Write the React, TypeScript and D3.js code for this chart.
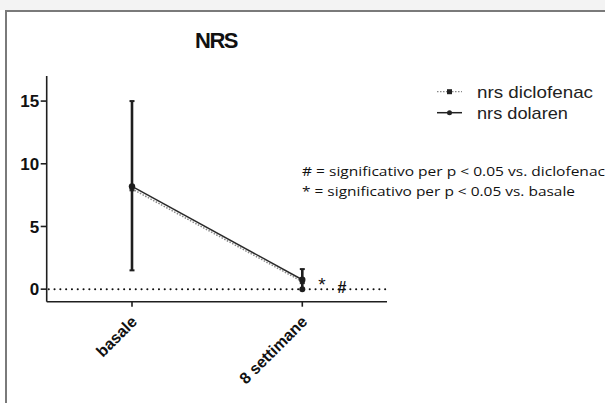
import React from "react";
import * as d3 from "d3";

const categories = ["basale", "8 settimane"];
const dolarenMean = [8.2, 0.75];
const dolarenLow = [1.5, 0];
const dolarenHigh = [15, 1.6];
const diclofenacMean = [8.0, 0.6];
const yTicks = [0, 5, 10, 15];
const legendLabels = ["nrs diclofenac", "nrs dolaren"];
const notes = [
  "# = significativo per p < 0.05 vs. diclofenac",
  "* = significativo per p < 0.05 vs. basale",
];
const sigMarks = ["*", "#"];

const W = 605;
const H = 403;

export default function App() {
  const axisLeft = 46.7;
  const axisRight = 387;
  const y = d3.scaleLinear().domain([-1, 17]).range([301.7, 76]);
  const x = d3.scalePoint().domain(categories).range([132, 302.3]);

  const line = d3
    .line<number>()
    .x((_, i) => x(categories[i]) as number)
    .y((d) => y(d));

  const dark = "#1e1e1e";
  const font = "'Liberation Sans', Arial, sans-serif";

  return (
    <svg
      width={W}
      height={H}
      style={{ position: "absolute", left: 0, top: 0, background: "#fff" }}
    >
      <rect x={0} y={0} width={W} height={10} fill="#f3f3f3" />
      <line x1={6} x2={W} y1={11} y2={11} stroke="#7a7a7a" strokeWidth={2} />
      <line x1={6} x2={6} y1={10} y2={H} stroke="#7a7a7a" strokeWidth={2} />

      <text
        x={216}
        y={48}
        textAnchor="middle"
        fontFamily={font}
        fontWeight="bold"
        fontSize={22}
        letterSpacing={-1.5}
        fill="#111"
      >
        NRS
      </text>

      {/* y axis */}
      <line x1={axisLeft} x2={axisLeft} y1={y(17)} y2={y(-1)} stroke={dark} strokeWidth={1.6} />
      {yTicks.map((t) => (
        <g key={t}>
          <line x1={axisLeft - 6} x2={axisLeft} y1={y(t)} y2={y(t)} stroke={dark} strokeWidth={1.6} />
          <text
            x={axisLeft - 7.5}
            y={y(t)}
            dy="0.36em"
            textAnchor="end"
            fontFamily={font}
            fontWeight="bold"
            fontSize={17}
            fill="#111"
          >
            {t}
          </text>
        </g>
      ))}

      {/* x axis */}
      <line x1={axisLeft} x2={axisRight} y1={y(-1)} y2={y(-1)} stroke={dark} strokeWidth={1.6} />
      {categories.map((c) => {
        const cx = x(c) as number;
        return (
          <g key={c}>
            <line x1={cx} x2={cx} y1={y(-1)} y2={y(-1) + 5} stroke={dark} strokeWidth={1.6} />
            <text
              transform={`translate(${cx + 6},${y(-1) + 21}) rotate(-45)`}
              textAnchor="end"
              fontFamily={font}
              fontWeight="bold"
              fontSize={16}
              fill="#111"
            >
              {c}
            </text>
          </g>
        );
      })}

      {/* zero dotted line */}
      <line
        x1={axisLeft + 2}
        x2={axisRight}
        y1={y(0)}
        y2={y(0)}
        stroke="#111"
        strokeWidth={2}
        strokeDasharray="0.1,5.7"
        strokeLinecap="round"
      />

      {/* diclofenac series */}
      <path
        d={line(diclofenacMean) || ""}
        fill="none"
        stroke="#888"
        strokeWidth={1.5}
        strokeDasharray="1.5,1.5"
      />
      {diclofenacMean.map((v, i) => (
        <rect
          key={i}
          x={(x(categories[i]) as number) - 2.5}
          y={y(v) - 2.5}
          width={5}
          height={5}
          fill="#333"
        />
      ))}

      {/* dolaren series */}
      <path d={line(dolarenMean) || ""} fill="none" stroke="#2a2a2a" strokeWidth={1.5} />
      {categories.map((c, i) => {
        const cx = x(c) as number;
        return (
          <g key={c}>
            <line x1={cx} x2={cx} y1={y(dolarenLow[i])} y2={y(dolarenHigh[i])} stroke={dark} strokeWidth={2.6} />
            <line x1={cx - 2.5} x2={cx + 2.5} y1={y(dolarenLow[i])} y2={y(dolarenLow[i])} stroke={dark} strokeWidth={2} />
            <line x1={cx - 2.5} x2={cx + 2.5} y1={y(dolarenHigh[i])} y2={y(dolarenHigh[i])} stroke={dark} strokeWidth={2} />
            <circle cx={cx} cy={y(dolarenMean[i])} r={3.2} fill={dark} />
          </g>
        );
      })}
      <circle cx={x(categories[1]) as number} cy={y(0)} r={3} fill={dark} />

      {/* significance marks */}
      <text x={322} y={y(0) + 2} textAnchor="middle" fontFamily={font} fontSize={19} fill="#111">
        {sigMarks[0]}
      </text>
      <text x={342} y={y(0) + 4} textAnchor="middle" fontFamily={font} fontWeight="bold" fontSize={16} fill="#111">
        {sigMarks[1]}
      </text>

      {/* legend */}
      <g>
        <line x1={437} x2={462} y1={91.7} y2={91.7} stroke="#888" strokeWidth={1.3} strokeDasharray="1.5,1.5" />
        <rect x={447} y={89.2} width={5} height={5} fill="#222" />
        <text x={477} y={97.5} fontFamily={font} fontSize={17} fill="#222" textLength={116} lengthAdjust="spacingAndGlyphs">
          {legendLabels[0]}
        </text>
        <line x1={437} x2={462} y1={112.7} y2={112.7} stroke="#222" strokeWidth={1.5} />
        <circle cx={449.5} cy={112.7} r={2.5} fill="#222" />
        <text x={477} y={118.5} fontFamily={font} fontSize={17} fill="#222" textLength={91} lengthAdjust="spacingAndGlyphs">
          {legendLabels[1]}
        </text>
      </g>

      {/* notes */}
      <text x={302} y={176} fontFamily="'Open Sans', 'Noto Sans', sans-serif" fontSize={12.5} fill="#111" textLength={303} lengthAdjust="spacingAndGlyphs">
        {notes[0]}
      </text>
      <text x={302} y={195.5} fontFamily="'Open Sans', 'Noto Sans', sans-serif" fontSize={12.5} fill="#111" textLength={273} lengthAdjust="spacingAndGlyphs">
        {notes[1]}
      </text>
    </svg>
  );
}
